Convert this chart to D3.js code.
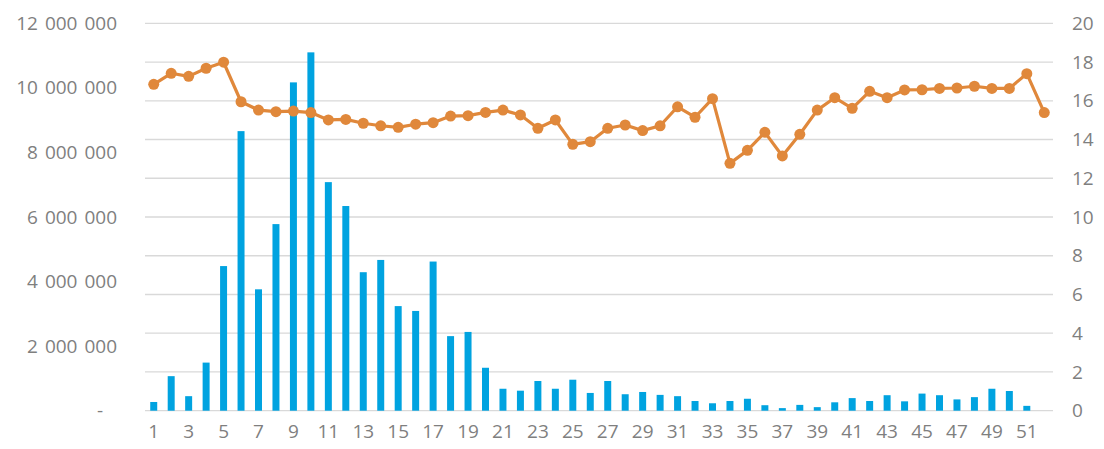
<!DOCTYPE html>
<html>
<head>
<meta charset="utf-8">
<script src="https://cdn.jsdelivr.net/npm/d3@7"></script>
<style>
  body { margin: 0; background: #fff; }
  svg { display: block; }
  .tick text { fill: #7f7f7f; font-size: 19px; font-family: "Open Sans", sans-serif; }
</style>
</head>
<body>
<div id="chart"></div>
<script>
// weeks 1..52
const weeks = d3.range(1, 53);

// bar series (left axis)
const volumes = [
  270000, 1070000, 450000, 1490000, 4480000, 8660000, 3760000, 5780000, 10170000, 11100000,
  7080000, 6340000, 4290000, 4670000, 3240000, 3090000, 4620000, 2310000, 2440000, 1330000,
  680000, 620000, 920000, 680000, 960000, 550000, 920000, 510000, 580000, 490000,
  450000, 300000, 230000, 300000, 370000, 170000, 80000, 180000, 110000, 260000,
  390000, 300000, 480000, 290000, 530000, 480000, 350000, 420000, 680000, 610000,
  150000, 0
];

// line series (right axis)
const rates = [
  16.85, 17.42, 17.26, 17.68, 17.99, 15.95, 15.52, 15.44, 15.47, 15.39,
  15.01, 15.04, 14.84, 14.71, 14.63, 14.79, 14.87, 15.21, 15.23, 15.40,
  15.52, 15.27, 14.58, 15.01, 13.75, 13.89, 14.58, 14.75, 14.46, 14.71,
  15.69, 15.15, 16.11, 12.77, 13.44, 14.37, 13.15, 14.27, 15.52, 16.16,
  15.61, 16.49, 16.16, 16.56, 16.57, 16.64, 16.66, 16.75, 16.64, 16.64,
  17.40, 15.39
];

const leftTicks = [0, 2000000, 4000000, 6000000, 8000000, 10000000, 12000000];
const leftTickLabels = ["-", "2 000 000", "4 000 000", "6 000 000", "8 000 000", "10 000 000", "12 000 000"];
const rightTicks = [0, 2, 4, 6, 8, 10, 12, 14, 16, 18, 20];
const xTickWeeks = weeks.filter(w => w % 2 === 1);

const width = 1104, height = 449;
const plot = { left: 145, right: 1053, top: 23.3, bottom: 410.7 };

const svg = d3.select("#chart").append("svg")
  .attr("width", width)
  .attr("height", height);

const x = d3.scaleBand()
  .domain(weeks)
  .range([plot.left, plot.right])
  .paddingInner(0.6)
  .paddingOuter(0.3);

const yLeft = d3.scaleLinear()
  .domain([0, 12000000])
  .range([plot.bottom, plot.top]);

const yRight = d3.scaleLinear()
  .domain([0, 20])
  .range([plot.bottom, plot.top]);

// gridlines follow the right axis
svg.append("g")
  .selectAll("line")
  .data(rightTicks)
  .enter()
  .append("line")
  .attr("x1", plot.left)
  .attr("x2", plot.right)
  .attr("y1", d => yRight(d))
  .attr("y2", d => yRight(d))
  .attr("stroke", "#d9d9d9")
  .attr("stroke-width", 1.3);

// bars
svg.append("g")
  .selectAll("rect")
  .data(weeks)
  .enter()
  .append("rect")
  .attr("x", (d, i) => x(d))
  .attr("width", x.bandwidth())
  .attr("y", (d, i) => yLeft(volumes[i]))
  .attr("height", (d, i) => yLeft(0) - yLeft(volumes[i]))
  .attr("fill", "#00a3e0");

// line + markers
const cx = d => x(d) + x.bandwidth() / 2;
const line = d3.line()
  .x((d, i) => cx(weeks[i]))
  .y(d => yRight(d));

svg.append("path")
  .datum(rates)
  .attr("d", line)
  .attr("fill", "none")
  .attr("stroke", "#e0883b")
  .attr("stroke-width", 3.2)
  .attr("stroke-linejoin", "round");

svg.append("g")
  .selectAll("circle")
  .data(rates)
  .enter()
  .append("circle")
  .attr("cx", (d, i) => cx(weeks[i]))
  .attr("cy", d => yRight(d))
  .attr("r", 5.5)
  .attr("fill", "#e0883b");

// left axis
const leftAxis = svg.append("g")
  .attr("transform", "translate(117,0)")
  .call(d3.axisLeft(yLeft)
    .tickValues(leftTicks)
    .tickSize(0)
    .tickPadding(0)
    .tickFormat((d, i) => leftTickLabels[i]));
leftAxis.select(".domain").remove();
leftAxis.selectAll(".tick text")
  .style("word-spacing", "2px")
  .attr("dx", d => d === 0 ? -14 : 0);

// right axis
const rightAxis = svg.append("g")
  .attr("transform", "translate(1072,0)")
  .call(d3.axisRight(yRight)
    .tickValues(rightTicks)
    .tickSize(0)
    .tickPadding(0));
rightAxis.select(".domain").remove();

// bottom axis
const bottomAxis = svg.append("g")
  .attr("transform", `translate(0,${plot.bottom})`)
  .call(d3.axisBottom(x)
    .tickValues(xTickWeeks)
    .tickSize(0)
    .tickPadding(14));
bottomAxis.select(".domain").remove();
</script>
</body>
</html>
